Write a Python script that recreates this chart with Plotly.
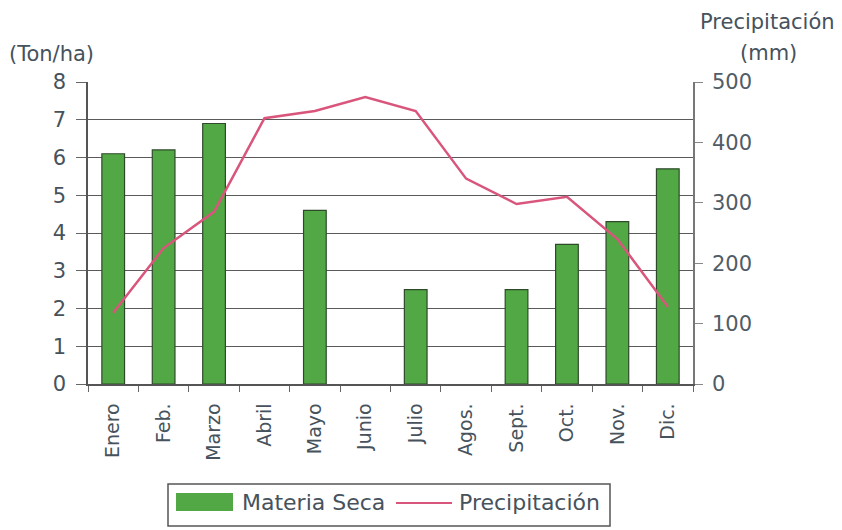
import plotly.graph_objects as go

meses = ["Enero", "Feb.", "Marzo", "Abril", "Mayo", "Junio", "Julio",
         "Agos.", "Sept.", "Oct.", "Nov.", "Dic."]
materia_seca = [6.1, 6.2, 6.9, None, 4.6, None, 2.5, None, 2.5, 3.7, 4.3, 5.7]
precipitacion = [118, 225, 285, 440, 452, 475, 452, 340, 298, 310, 240, 128]

texto = "#46525c"
verde = "#52a845"
rosa = "#d9557c"
fuente = "DejaVu Sans, Verdana, sans-serif"

W, H = 842, 530
L, R, T, B = 88, 149, 82, 146
PW, PH = W - L - R, H - T - B


def px_x(px):
    """Horizontal pixel -> paper fraction."""
    return (px - L) / PW


def px_y(py):
    """Vertical pixel (from top) -> paper fraction."""
    return (H - B - py) / PH


fig = go.Figure()
fig.add_trace(go.Bar(
    x=meses, y=materia_seca, name="Materia Seca",
    marker=dict(color=verde, line=dict(color="#2e4a2a", width=1.2)),
    width=0.45, showlegend=False,
))
fig.add_trace(go.Scatter(
    x=meses, y=precipitacion, name="Precipitación", yaxis="y2",
    mode="lines", line=dict(color=rosa, width=2.5), showlegend=False,
))

# Legend box with its swatches
legend_shapes = [
    dict(type="rect", xref="paper", yref="paper",
         x0=px_x(168), x1=px_x(610), y0=px_y(526), y1=px_y(484),
         line=dict(color="#555", width=1.5), fillcolor="white"),
    dict(type="rect", xref="paper", yref="paper",
         x0=px_x(176), x1=px_x(233), y0=px_y(511), y1=px_y(493),
         line=dict(width=0), fillcolor=verde),
    dict(type="line", xref="paper", yref="paper",
         x0=px_x(396), x1=px_x(452), y0=px_y(503), y1=px_y(503),
         line=dict(color=rosa, width=2)),
]

fig.update_layout(
    width=W, height=H,
    margin=dict(l=L, r=R, t=T, b=B, autoexpand=False),
    paper_bgcolor="white", plot_bgcolor="white",
    font=dict(family=fuente, color=texto, size=20),
    showlegend=False,
    shapes=legend_shapes,
    xaxis=dict(
        type="category", tickangle=-90, tickfont=dict(size=19),
        ticks="outside", ticklen=6, tickson="boundaries", tickcolor="#666",
        ticklabelstandoff=10,
        showline=True, linecolor="#555", linewidth=1.5,
        showgrid=False,
    ),
    yaxis=dict(
        range=[0, 8], dtick=1, tickfont=dict(size=21),
        ticks="outside", ticklen=10, tickcolor="#666",
        ticklabelstandoff=6,
        showline=True, linecolor="#555", linewidth=1.5,
        showgrid=True, gridcolor="#5a5a5a", gridwidth=1.3,
        zeroline=False,
    ),
    yaxis2=dict(
        range=[0, 500], dtick=100, overlaying="y", side="right",
        tickfont=dict(size=21, color="#505c66"),
        ticks="outside", ticklen=8, tickcolor="#888",
        ticklabelstandoff=5,
        showline=True, linecolor="#777", linewidth=1.5,
        showgrid=False, zeroline=False,
    ),
    annotations=[
        dict(text="(Ton/ha)", xref="paper", yref="paper", x=px_x(7), y=px_y(54),
             xanchor="left", yanchor="middle", showarrow=False,
             font=dict(size=21, color=texto)),
        dict(text="Precipitación", xref="paper", yref="paper", x=px_x(767),
             y=px_y(22), xanchor="center", yanchor="middle", showarrow=False,
             font=dict(size=21, color=texto)),
        dict(text="(mm)", xref="paper", yref="paper", x=px_x(768), y=px_y(53),
             xanchor="center", yanchor="middle", showarrow=False,
             font=dict(size=21, color=texto)),
        dict(text="Materia Seca", xref="paper", yref="paper",
             x=px_x(240), y=px_y(503),
             xanchor="left", yanchor="middle", showarrow=False,
             font=dict(size=22, color=texto)),
        dict(text="Precipitación", xref="paper", yref="paper",
             x=px_x(457), y=px_y(503),
             xanchor="left", yanchor="middle", showarrow=False,
             font=dict(size=22, color=texto)),
    ],
)

fig.write_html("out.html")
